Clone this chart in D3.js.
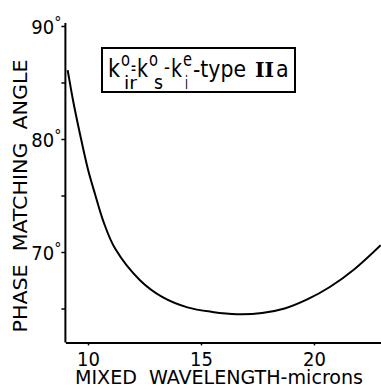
<!DOCTYPE html>
<html>
<head>
<meta charset="utf-8">
<script src="https://cdn.jsdelivr.net/npm/d3@7"></script>
<style>
  html, body { margin: 0; padding: 0; background: #fff; }
  svg text { font-family: "DejaVu Sans Condensed", "DejaVu Sans", sans-serif; fill: #000; }
</style>
</head>
<body>
<div id="chart"></div>
<script>
// mixed wavelength (microns) vs phase matching angle (degrees)
const wavelength = [9.1, 9.35, 9.65, 10.0, 10.3, 10.7, 11.2, 12.3, 13.3, 14.4, 15.5, 16.6, 17.7, 18.7, 19.7, 20.7, 21.8, 22.95];
const angle      = [86.1, 83.3, 80.4, 77.3, 75.2, 72.6, 70.3, 67.5, 66.0, 65.1, 64.7, 64.5, 64.6, 65.0, 65.8, 66.9, 68.5, 70.6];

const xTicks = [10, 15, 20];
const yTicks = [65, 70, 75, 80, 85, 90];
const yLabelled = [70, 80, 90];

const width = 381, height = 389;

const svg = d3.select('#chart')
  .append('svg')
  .attr('width', width)
  .attr('height', height);

//scales
const x = d3.scaleLinear().domain([9, 23]).range([65.4, 381.8]);
const y = d3.scaleLinear().domain([62, 90]).range([342.4, 26]);

const data = wavelength.map((w, i) => ({ x: w, y: angle[i] }));

// y axis
const yAxis = svg.append('g')
  .attr('transform', 'translate(' + x(9) + ',0)')
  .call(d3.axisLeft(y).tickValues(yTicks).tickSize(4).tickSizeOuter(0).tickFormat(''));
yAxis.select('.domain').attr('stroke-width', 2)
  .attr('d', 'M0,' + (y(90) - 3) + 'V' + y(62));
yAxis.selectAll('.tick line').attr('stroke-width', 1.5);
const yLab = yAxis.selectAll('.tick')
  .filter(d => yLabelled.includes(d))
  .append('text')
  .attr('x', -4)
  .attr('y', 7)
  .attr('text-anchor', 'end')
  .style('font-size', '20px');
yLab.append('tspan').text(d => d);
yLab.append('tspan')
  .attr('dy', -6)
  .style('font-size', '16px')
  .text('°');

// x axis
const xAxis = svg.append('g')
  .attr('transform', 'translate(0,' + y(62) + ')')
  .call(d3.axisBottom(x).tickValues(xTicks).tickSize(3).tickSizeOuter(0).tickFormat(''));
xAxis.select('.domain').attr('stroke-width', 2);
xAxis.selectAll('.tick line').attr('stroke-width', 1.5);
xAxis.selectAll('.tick')
  .append('text')
  .attr('y', 24)
  .attr('text-anchor', 'middle')
  .style('font-size', '20px')
  .text(d => d);

// curve
const line = d3.line()
  .x(d => x(d.x))
  .y(d => y(d.y))
  .curve(d3.curveCatmullRom.alpha(0.5));

svg.append('path')
  .datum(data)
  .attr('d', line)
  .attr('fill', 'none')
  .attr('stroke', '#000')
  .attr('stroke-width', 2);

// axis titles
svg.append('text')
  .attr('transform', 'translate(27,196) rotate(-90)')
  .attr('text-anchor', 'middle')
  .attr('textLength', 273)
  .attr('lengthAdjust', 'spacingAndGlyphs')
  .style('font-size', '19px')
  .style('white-space', 'pre')
  .text('PHASE  MATCHING  ANGLE');

svg.append('text')
  .attr('x', 219)
  .attr('y', 384)
  .attr('text-anchor', 'middle')
  .attr('textLength', 288)
  .attr('lengthAdjust', 'spacingAndGlyphs')
  .style('font-size', '19px')
  .style('white-space', 'pre')
  .text('MIXED  WAVELENGTH-microns');

// label box
const box = svg.append('g');
box.append('rect')
  .attr('x', 102).attr('y', 48)
  .attr('width', 193).attr('height', 44)
  .attr('fill', 'none')
  .attr('stroke', '#000')
  .attr('stroke-width', 2);

const pieces = [
  { t: 'k', x: 108, y: 77, s: 24, w: 12 },
  { t: 'o', x: 121, y: 66, s: 19, w: 9 },
  { t: 'ir', x: 124, y: 89, s: 18, w: 13 },
  { t: '=', x: 131, y: 74, s: 19, w: 5 },
  { t: 'k', x: 137, y: 77, s: 24, w: 11 },
  { t: 'o', x: 149, y: 66, s: 19, w: 9 },
  { t: 's', x: 154, y: 89, s: 19, w: 9 },
  { t: '-', x: 164, y: 74, s: 20, w: 6 },
  { t: 'k', x: 171, y: 77, s: 24, w: 11 },
  { t: 'e', x: 183, y: 66, s: 19, w: 9 },
  { t: 'i', x: 185, y: 89, s: 18, w: 3 },
  { t: '-type', x: 193, y: 77, s: 23, w: 53 },
];
box.selectAll('text.piece')
  .data(pieces)
  .enter()
  .append('text')
  .attr('class', 'piece')
  .attr('x', d => d.x)
  .attr('y', d => d.y)
  .attr('textLength', d => d.w)
  .attr('lengthAdjust', 'spacingAndGlyphs')
  .style('font-size', d => d.s + 'px')
  .text(d => d.t);

box.append('text')
  .attr('x', 255).attr('y', 77)
  .attr('textLength', 19)
  .attr('lengthAdjust', 'spacingAndGlyphs')
  .style('font-family', '"DejaVu Serif", serif')
  .style('font-weight', 'bold')
  .style('font-size', '21px')
  .text('II');
box.append('text')
  .attr('x', 276).attr('y', 77)
  .style('font-size', '23px')
  .text('a');
</script>
</body>
</html>
